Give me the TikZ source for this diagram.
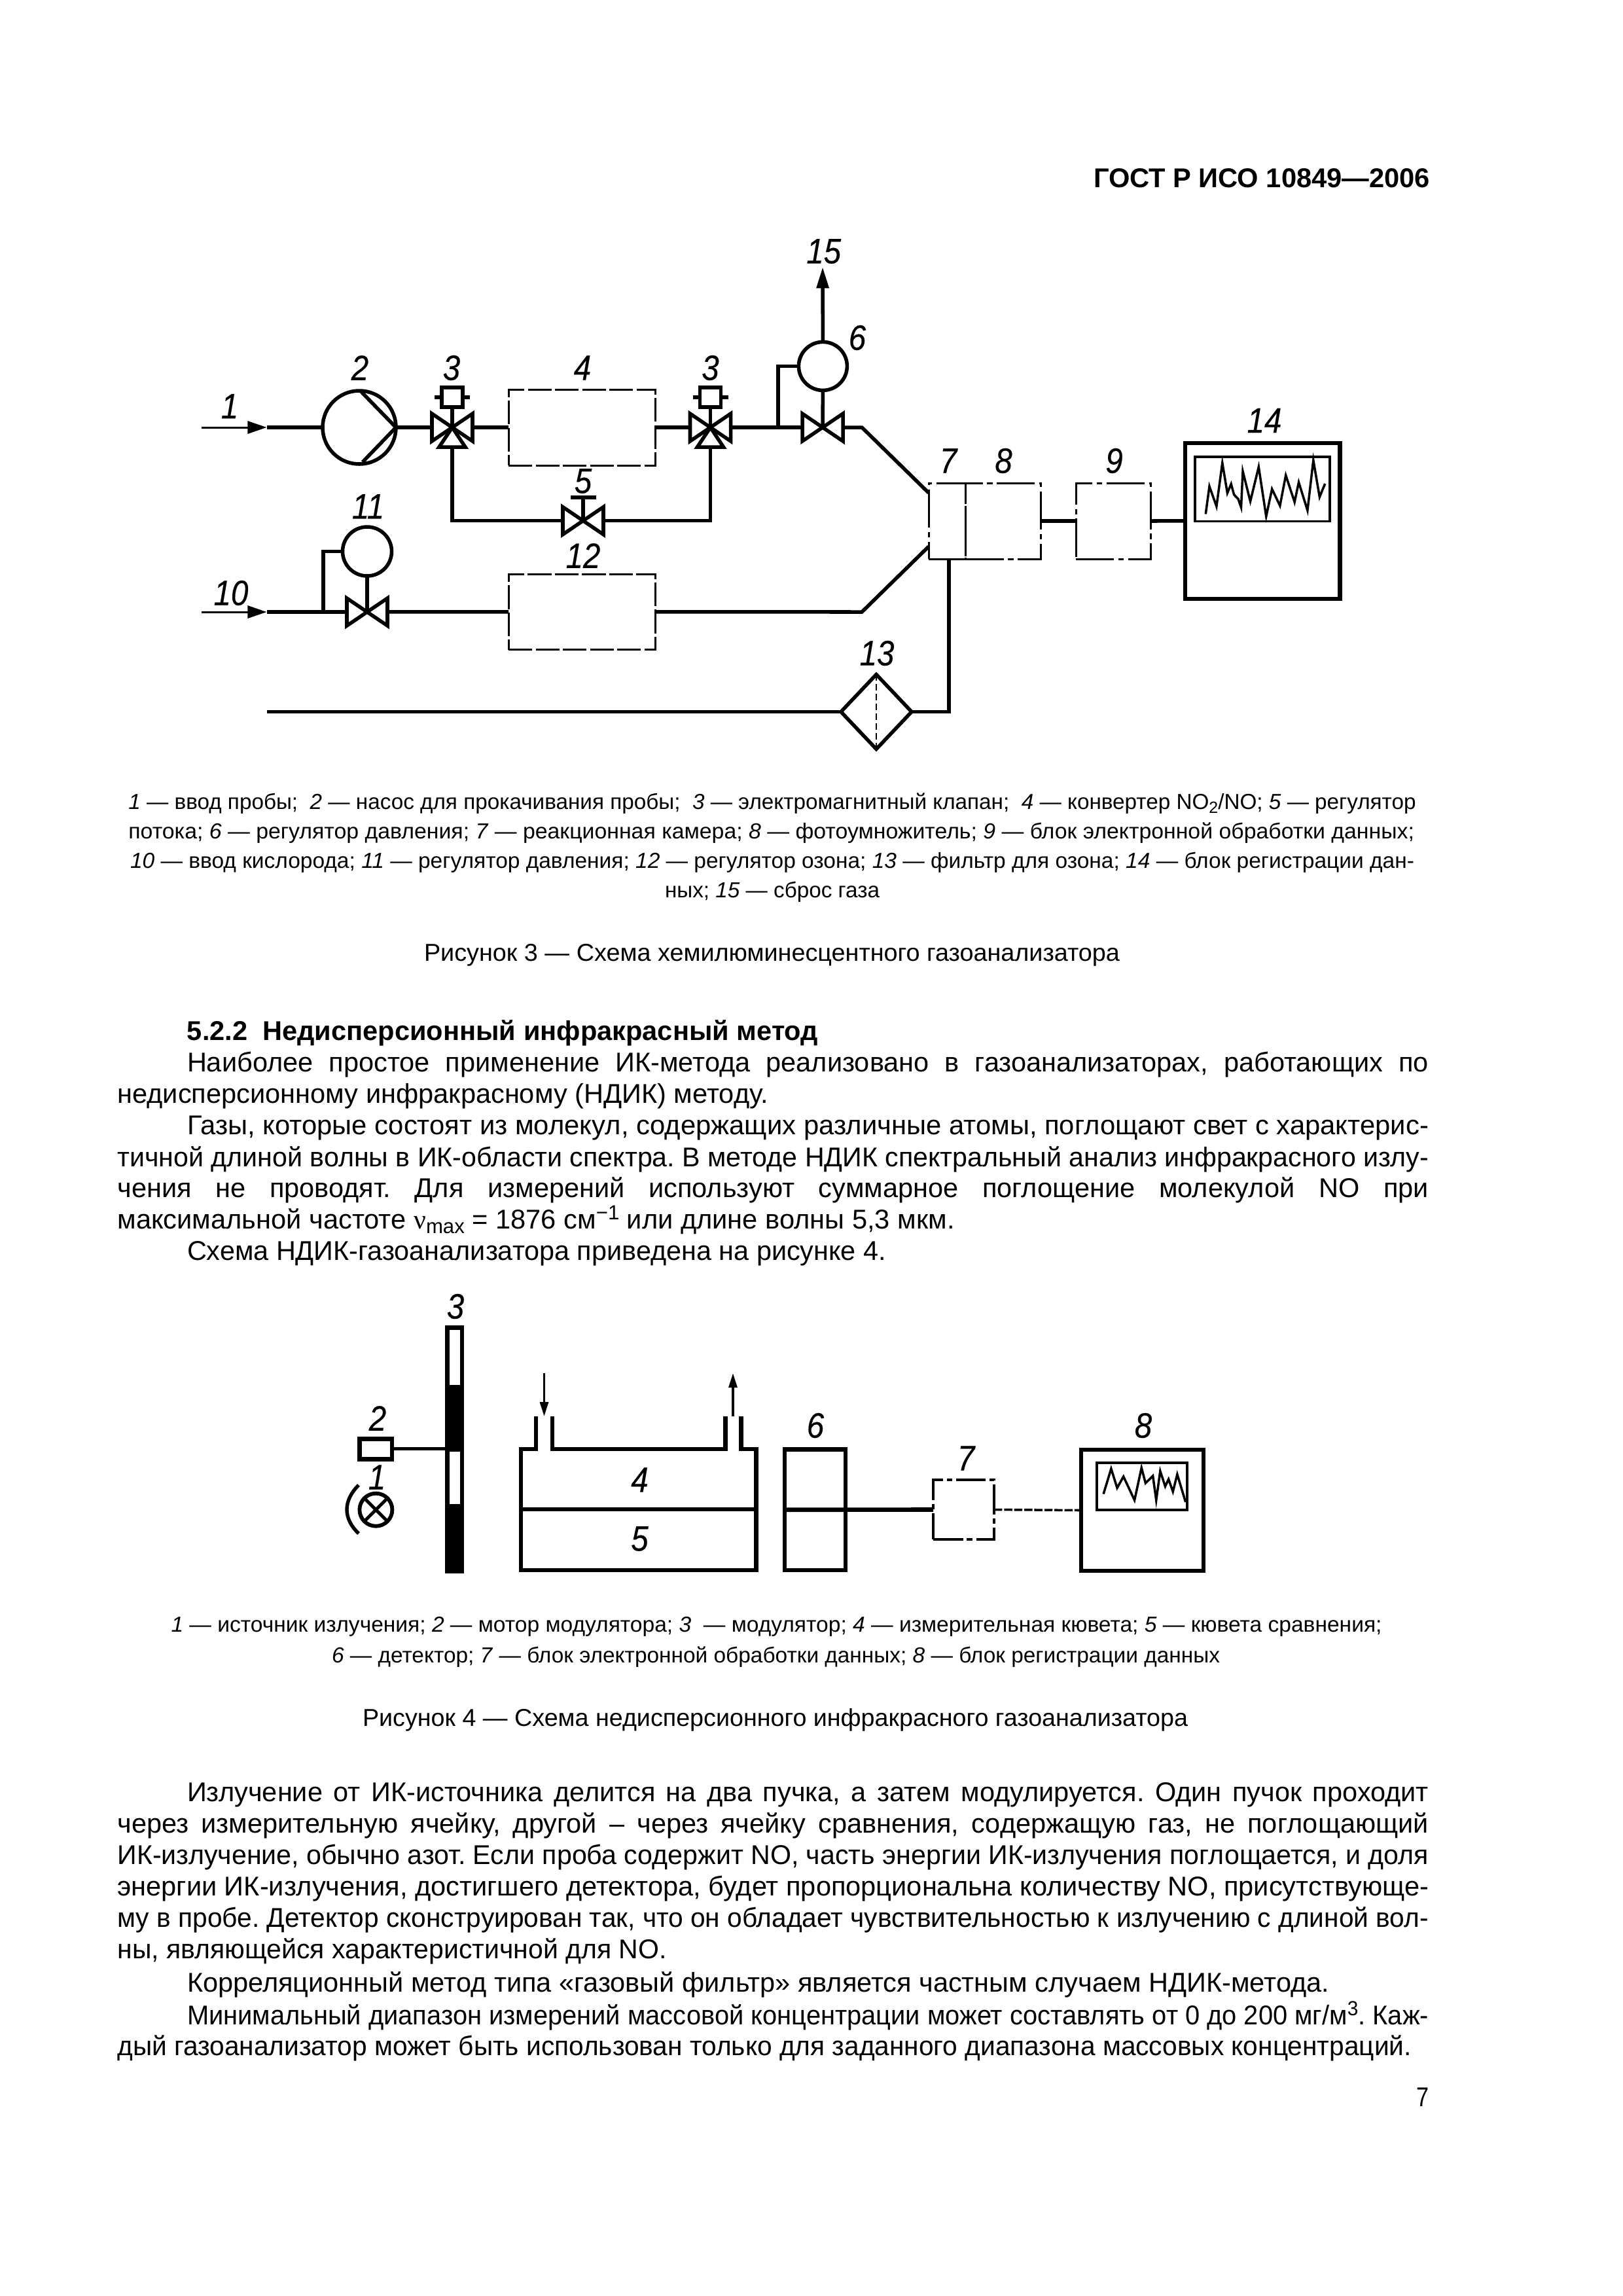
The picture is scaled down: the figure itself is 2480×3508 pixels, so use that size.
\documentclass[tikz,border=0pt]{standalone}
\usepackage{fontspec}
\usepackage{graphicx}
\usetikzlibrary{arrows.meta,shapes.geometric}
\setmainfont{Liberation Sans}
\newfontfamily\serfont{Liberation Serif}
\newfontfamily\labfont{Liberation Sans}[ItalicFeatures={FakeBold=0.35}]
\frenchspacing
\newlength\pu \setlength\pu{0.24094pt}
\newcounter{tn}
\newcommand{\nm}[1]{\textit{#1}}
\newcommand{\sbx}[1]{\raisebox{-0.35ex}{\scalebox{0.75}{#1}}}
\newcommand{\spx}[1]{\raisebox{0.6ex}{\scalebox{0.75}{#1}}}
\newcommand{\bdy}{\fontsize{10}{12}\selectfont}
\newcommand{\lgd}{\fontsize{8}{10}\selectfont}
\newcommand{\cpt}{\fontsize{9}{11}\selectfont}
% x1 x2 baseline font text: width forced by scaling
\newcommand{\txr}[5]{\stepcounter{tn}\node[txt] (t\arabic{tn}) at (#1,#3) {\resizebox{\dimexpr #2\pu-#1\pu\relax}{\height}{#4#5}};}
% x1 x2 baseline font text: width forced by word spaces
\newcommand{\txs}[5]{\stepcounter{tn}\node[txt] (t\arabic{tn}) at (#1,#3) {#4\makebox[\dimexpr #2\pu-#1\pu\relax][s]{#5}};}
\newcommand{\bx}[6]{\node[rectangle,inner sep=0pt,outer sep=0pt,minimum width={(#4-#2)*\pu},minimum height={(#5-#3)*\pu},#6] (#1) at ({(#2+#4)/2},{(#3+#5)/2}) {};}
\newcommand{\lbl}[3]{\node[lab] (#1) at (#2) {#3};}
\tikzset{
  txt/.style={anchor=base west,inner sep=0pt,outer sep=0pt},
  lab/.style={inner sep=0pt,outer sep=0pt,xscale=0.88,font=\labfont\fontsize{13}{15}\selectfont\itshape},
  thk/.style={line width=1.33pt},
  thn/.style={line width=0.72pt},
  dsh/.style={draw,line width=0.72pt,dash pattern=on 8.7pt off 1.3pt},
  dshdot/.style={draw,line width=0.72pt,dash pattern=on 14pt off 1.6pt on 2pt off 1.6pt},
  hd/.style={-{Triangle[length=7pt,width=4.6pt]}},
  hdb/.style={-{Triangle[length=7.8pt,width=4.4pt]}},
  hds/.style={-{Triangle[length=5.3pt,width=3.1pt]}},
  valveh/.pic={\draw[thk,fill=white,line join=miter] (0,0)--(-31,-21)--(-31,21)--cycle (0,0)--(31,-21)--(31,21)--cycle;},
  valvet/.pic={\draw[thk,fill=white] (0,0)--(-20,30)--(20,30)--cycle;
     \draw[thk,fill=white] (0,0)--(-31,-21)--(-31,21)--cycle (0,0)--(31,-21)--(31,21)--cycle;},
  sol/.pic={\draw[thk] (0,0)--(0,-31);
     \draw[thk,fill=white] (-16,-61) rectangle (16,-31);
     \draw[thk] (-27,-46)--(-16,-46) (16,-46)--(27,-46);},
}
\begin{document}
\begin{tikzpicture}[x=\pu,y=-\pu]
\useasboundingbox (0,0) rectangle (2480,3508);
\fill[white] (0,0) rectangle (2480,3508);
% ---------- header
\txr{1671}{2185}{286}{\bdy\bfseries}{ГОСТ Р ИСО 10849—2006}
% ---------- figure 3: nodes
\coordinate (a1s) at (308,653);
\coordinate (a1e) at (407.5,653);
\coordinate (a10s) at (308,935);
\coordinate (a10e) at (407.5,935);
\coordinate (v31) at (691,653);
\coordinate (v32) at (1085.5,653);
\coordinate (v5) at (891,795.6);
\coordinate (v6) at (1257,653);
\coordinate (v11) at (561,935);
\coordinate (h5) at (891,760);
\coordinate (h5l) at (872,760);
\coordinate (h5r) at (911,760);
\coordinate (tap6) at (1189,653);
\coordinate (tap11) at (494,935);
\coordinate (k1) at (1317,653);
\coordinate (k2) at (1419,753);
\coordinate (k3) at (1317,935);
\coordinate (k4) at (1419,835);
\coordinate (a15) at (1257,408);
\coordinate (ls) at (407.5,1087.5);
\coordinate (c78) at (1450,854);
\bx{b4}{777}{595}{1001}{711}{dsh}
\bx{b12}{777}{877}{1001}{992.6}{dsh}
\bx{b7}{1419}{738}{1475.5}{854}{dshdot}
\bx{b8}{1475.5}{738}{1590}{854}{dshdot}
\bx{b9}{1644}{738}{1758}{854}{dshdot}
\bx{d14}{1811}{676.7}{2047.6}{915}{draw,line width=1.55pt}
\bx{s14}{1826}{698}{2032}{796.6}{draw,line width=0.9pt}
\node[circle,draw,thk,fill=white,inner sep=0pt,outer sep=0pt,minimum size={112*\pu}] (pump) at (549,653) {};
\node[circle,draw,thk,fill=white,inner sep=0pt,outer sep=0pt,minimum size={74*\pu}] (r6) at (1257.4,559.4) {};
\node[circle,draw,thk,fill=white,inner sep=0pt,outer sep=0pt,minimum size={75*\pu}] (r11) at (561,842.5) {};
\node[diamond,draw,thk,inner sep=0pt,outer sep=0pt,minimum width={108*\pu},minimum height={114*\pu}] (flt) at (1339,1087.5) {};
% figure 3: connectors
\draw[thn,hd] (a1s)--(a1e);
\draw[thn,hd] (a10s)--(a10e);
\draw[thk] (a1e)--(pump.west);
\draw[thk] (pump.east)--(v31);
\draw[thk] (v31)--(b4.west);
\draw[thk] (b4.east)--(v32);
\draw[thk] (v32)--(v6);
\draw[thk,line join=miter] (v6)--(k1)--(k2);
\draw[thk] (v31)|-(v5);
\draw[thk] (v5)-|(v32);
\draw[thk] (v5)--(h5);
\draw[thk] (h5l)--(h5r);
\draw[thk] (a10e)--(v11);
\draw[thk] (v11)--(b12.west);
\draw[thk,line join=miter] (b12.east)--(k3)--(k4);
\draw[thk] (tap6)|-(r6.west);
\draw[thk] (r6.south)--(v6);
\draw[thk,hdb] (r6.north)--(a15);
\draw[thk] (tap11)|-(r11.west);
\draw[thk] (r11.south)--(v11);
\draw[thk] (ls)--(flt.west);
\draw[thk] (flt.east)-|(c78);
\draw[line width=0.6pt,dash pattern=on 2.4pt off 1.2pt] (flt.north)--(flt.south);
\draw[thk] (b8.east)--(b9.west);
\draw[thk] (b9.east)--(d14.west);
% pump blades
\coordinate (pb1) at (551,597.5);
\coordinate (pb2) at (554,706);
\draw[thk,line join=miter] (pb1)--(pump.east)--(pb2);
% valves
\pic at (v31) {valvet};
\pic at (v32) {valvet};
\pic at (v31) {sol};
\pic at (v32) {sol};
\pic at (v5) {valveh};
\pic at (v6) {valveh};
\pic at (v11) {valveh};
% waveform 14
\begin{scope}[shift={(1200,340)},xscale=0.6378,yscale=0.5102]
\draw[line width=0.85pt,line join=miter] (1007,873)--(1016,790)--(1033,850)--(1047,720)--(1059,810)--(1068,783)--(1075,815)--(1085,828)--(1092,853)--(1096,745)--(1114,835)--(1134,732)--(1152,880)--(1166,798)--(1185,848)--(1199,757)--(1220,837)--(1230,778)--(1251,862)--(1265,712)--(1280,822)--(1293,782);
\end{scope}
% labels fig 3
\lbl{l1}{351,620.6}{1}
\lbl{l2}{550,562}{2}
\lbl{l3a}{690,562}{3}
\lbl{l4}{890,562}{4}
\lbl{l3b}{1085.5,562}{3}
\lbl{l5}{891,735}{5}
\lbl{l11}{562.5,773.7}{11}
\lbl{l12}{891,849}{12}
\lbl{l10}{353,906}{10}
\lbl{l15}{1258.7,384}{15}
\lbl{l6}{1310,516}{6}
\lbl{l7}{1449,704}{7}
\lbl{l8}{1533.5,704}{8}
\lbl{l9}{1702.5,704}{9}
\lbl{l14}{1932,642.5}{14}
\lbl{l13}{1340,998}{13}
% ---------- legend fig 3
\txr{196.4}{2163.6}{1236}{\lgd}{\nm{1} — ввод пробы;\ \ \nm{2} — насос для прокачивания пробы;\ \ \nm{3} — электромагнитный клапан;\ \ \nm{4} — конвертер NO\sbx{2}/NO; \nm{5} — регулятор}
\txr{196.4}{2161}{1281.7}{\lgd}{потока; \nm{6} — регулятор давления; \nm{7} — реакционная камера; \nm{8} — фотоумножитель; \nm{9} — блок электронной обработки данных;}
\txr{199}{2161}{1326}{\lgd}{\nm{10} — ввод кислорода; \nm{11} — регулятор давления; \nm{12} — регулятор озона; \nm{13} — фильтр для озона; \nm{14} — блок регистрации дан-}
\txr{1016}{1344}{1371.7}{\lgd}{ных; \nm{15} — сброс газа}
\txr{648}{1711}{1468}{\cpt}{Рисунок 3 — Схема хемилюминесцентного газоанализатора}
% ---------- body 1
\txr{286}{1250}{1589}{\bdy\bfseries}{5.2.2\ \ Недисперсионный инфракрасный метод}
\txs{286}{2183}{1637}{\bdy}{Наиболее простое применение ИК-метода реализовано в газоанализаторах, работающих по}
\txr{179.5}{1173.5}{1685}{\bdy}{недисперсионному инфракрасному (НДИК) методу.}
\txr{286}{2183}{1733}{\bdy}{Газы, которые состоят из молекул, содержащих различные атомы, поглощают свет с характерис-}
\txr{179.5}{2183}{1782}{\bdy}{тичной длиной волны в ИК-области спектра. В методе НДИК спектральный анализ инфракрасного излу-}
\txs{179.5}{2183}{1829}{\bdy}{чения не проводят. Для измерений используют суммарное поглощение молекулой NO при}
\txr{179.5}{1458.5}{1877}{\bdy}{максимальной частоте {\serfont ν}\sbx{max} = 1876 см\spx{−1} или длине волны 5,3 мкм.}
\txr{286}{1354}{1925}{\bdy}{Схема НДИК-газоанализатора приведена на рисунке 4.}
% ---------- figure 4: shapes
\bx{mod}{680}{2025}{709}{2404}{fill=black}
\bx{w1}{687}{2031.7}{702.5}{2115.7}{fill=white}
\bx{w2}{687}{2217.7}{702.5}{2297.7}{fill=white}
\bx{mot}{549.3}{2198.3}{599.2}{2229.4}{draw,line width=1.55pt}
\draw[line width=1.25pt] (mot.east)--(mod.west |- mot.east);
\node[circle,draw,line width=1.4pt,inner sep=0pt,outer sep=0pt,minimum size={50*\pu}] (lamp) at (574.4,2306.7) {};
\draw[line width=1.2pt] (lamp.north west)--(lamp.south east) (lamp.north east)--(lamp.south west);
\coordinate (arc1) at (548,2269);
\coordinate (arc2) at (548,2343);
\draw[line width=1.3pt] (arc1) .. controls (524,2293) and (524,2320) .. (arc2);
% cell
\draw[line width=1.55pt,line join=miter] (819,2164)--(819,2214)--(796,2214)--(796,2399)--(1155.5,2399)--(1155.5,2214)--(1132.6,2214)--(1132.6,2164);
\draw[line width=1.55pt,line join=miter] (844,2164)--(844,2214)--(1108.6,2214)--(1108.6,2164);
\draw[line width=1.55pt] (796,2306)--(1155.5,2306);
\coordinate (inS) at (831.5,2098);
\coordinate (inE) at (831.5,2164);
\coordinate (outS) at (1120,2164);
\coordinate (outE) at (1120,2098);
\draw[line width=0.85pt,hds] (inS)--(inE);
\draw[line width=0.85pt,hds] (outS)--(outE);
% detector etc
\bx{b6}{1199}{2214.5}{1292}{2399}{draw,line width=1.55pt}
\bx{b7f}{1426}{2261}{1519}{2352}{draw,line width=0.95pt,dash pattern=on 11pt off 1.4pt on 2pt off 1.4pt}
\bx{d8}{1652}{2215}{1839}{2400}{draw,line width=1.55pt}
\bx{s8}{1676}{2234.5}{1814}{2306.5}{draw,line width=0.95pt}
\draw[line width=1.6pt] (b6.west)--(b7f.west);
\draw[line width=0.85pt,dash pattern=on 3pt off 0.7pt] (b7f.east)--(d8.west);
\begin{scope}[shift={(1180,2100)},xscale=0.5102,yscale=0.3333]
\draw[line width=0.85pt,line join=miter] (992,548)--(1015,432)--(1033,520)--(1052,468)--(1085,576)--(1106,428)--(1118,498)--(1140,465)--(1150,576)--(1162,443)--(1177,513)--(1187,480)--(1200,537)--(1213,458)--(1238,585);
\end{scope}
% labels fig 4
\lbl{m3}{696,1996}{3}
\lbl{m2}{577,2167}{2}
\lbl{m1}{576,2257}{1}
\lbl{m4}{977.5,2261}{4}
\lbl{m5}{977.5,2351}{5}
\lbl{m6}{1246,2178}{6}
\lbl{m7}{1476,2228}{7}
\lbl{m8}{1747,2178}{8}
% ---------- legend fig 4
\txr{261.5}{2111.6}{2493}{\lgd}{\nm{1} — источник излучения; \nm{2} — мотор модулятора; \nm{3}\ \ — модулятор; \nm{4} — измерительная кювета; \nm{5} — кювета сравнения;}
\txr{507}{1864}{2540}{\lgd}{\nm{6} — детектор; \nm{7} — блок электронной обработки данных; \nm{8} — блок регистрации данных}
\txr{554}{1815}{2637}{\cpt}{Рисунок 4 — Схема недисперсионного инфракрасного газоанализатора}
% ---------- body 2
\txs{286}{2183}{2752}{\bdy}{Излучение от ИК-источника делится на два пучка, а затем модулируется. Один пучок проходит}
\txs{179.5}{2183}{2800}{\bdy}{через измерительную ячейку, другой – через ячейку сравнения, содержащую газ, не поглощающий}
\txr{179.5}{2183}{2848}{\bdy}{ИК-излучение, обычно азот. Если проба содержит NO, часть энергии ИК-излучения поглощается, и доля}
\txr{179.5}{2183}{2896}{\bdy}{энергии ИК-излучения, достигшего детектора, будет пропорциональна количеству NO, присутствующе-}
\txr{179.5}{2183}{2944}{\bdy}{му в пробе. Детектор сконструирован так, что он обладает чувствительностью к излучению с длиной вол-}
\txr{179.5}{1018.7}{2992}{\bdy}{ны, являющейся характеристичной для NO.}
\txr{286}{2031}{3043}{\bdy}{Корреляционный метод типа «газовый фильтр» является частным случаем НДИК-метода.}
\txr{286}{2183}{3093}{\bdy}{Минимальный диапазон измерений массовой концентрации может составлять от 0 до 200 мг/м\spx{3}. Каж-}
\txr{179.5}{2157}{3140}{\bdy}{дый газоанализатор может быть использован только для заданного диапазона массовых концентраций.}
\txr{2164}{2183}{3218}{\bdy}{7}
\end{tikzpicture}
\end{document}
